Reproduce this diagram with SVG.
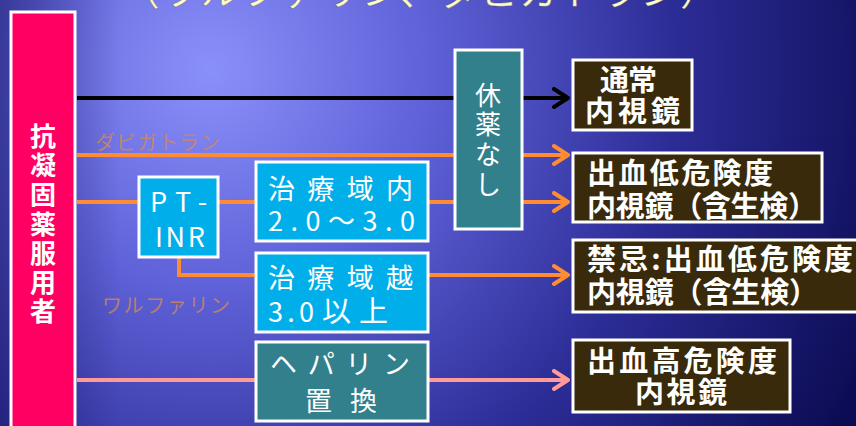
<svg xmlns="http://www.w3.org/2000/svg" width="856" height="426" viewBox="0 0 856 426">
<defs>
<radialGradient id="bg" cx="210" cy="70" r="720" gradientUnits="userSpaceOnUse">
<stop offset="0" stop-color="#8a90fa"/>
<stop offset="0.3" stop-color="#5f62d8"/>
<stop offset="0.65" stop-color="#2c2c96"/>
<stop offset="1" stop-color="#0c0c55"/>
</radialGradient>
<linearGradient id="fadeL" x1="0" y1="0" x2="1" y2="0">
<stop offset="0" stop-color="#10105a" stop-opacity="0.5"/>
<stop offset="1" stop-color="#10105a" stop-opacity="0"/>
</linearGradient>
<marker id="ah-black" viewBox="0 0 18 22" refX="16" refY="11" markerWidth="18" markerHeight="22" markerUnits="userSpaceOnUse" orient="auto">
<path d="M2,2 L16,11 L2,20" fill="none" stroke="#000" stroke-width="4" stroke-linecap="round" stroke-linejoin="round"/>
</marker>
<marker id="ah-orange" viewBox="0 0 18 22" refX="16" refY="11" markerWidth="18" markerHeight="22" markerUnits="userSpaceOnUse" orient="auto">
<path d="M2,2 L16,11 L2,20" fill="none" stroke="#ff8c32" stroke-width="4" stroke-linecap="round" stroke-linejoin="round"/>
</marker>
<marker id="ah-salmon" viewBox="0 0 18 22" refX="16" refY="11" markerWidth="18" markerHeight="22" markerUnits="userSpaceOnUse" orient="auto">
<path d="M2,2 L16,11 L2,20" fill="none" stroke="#ff9a96" stroke-width="4" stroke-linecap="round" stroke-linejoin="round"/>
</marker>
</defs>
<style>
text{font-family:"Noto Sans CJK JP","Noto Sans",sans-serif;fill:#fff}
.box{stroke:#fff;stroke-width:3}
.pink{fill:#ff0062}
.blue{fill:#00aeea}
.teal{fill:#31808c}
.brown{fill:#392a0c}
.t28{font-size:27px}
.t29{font-size:29px;font-weight:700}
.vt{font-size:26px}
.v{font-size:26px;font-weight:700}
.lbl{font-size:20px;fill:#d08858;fill-opacity:0.8}
.ln{fill:none;stroke-width:4}
.k{stroke:#000}
.o{stroke:#ff8c32}
.s{stroke:#ff9a96}
</style>
<rect width="856" height="426" fill="url(#bg)"/>
<rect width="120" height="426" fill="url(#fadeL)"/>
<text x="120" y="5" textLength="600" lengthAdjust="spacing" style="font-size:40px;fill:#fffcc8" stroke="#333" stroke-opacity="0.3" stroke-width="1">（ワルファリン、ダビガトラン）</text>

<g id="connectors">
<path class="ln k" d="M77,98 H568" marker-end="url(#ah-black)"/>
<path class="ln o" d="M77,155 H568" marker-end="url(#ah-orange)"/>
<path class="ln o" d="M77,202 H139"/>
<path class="ln o" d="M218,202 H256"/>
<path class="ln o" d="M428,202 H568" marker-end="url(#ah-orange)"/>
<path class="ln o" d="M179,257 V275 H256"/>
<path class="ln o" d="M428,275 H568" marker-end="url(#ah-orange)"/>
<path class="ln s" d="M77,380 H256"/>
<path class="ln s" d="M428,380 H568" marker-end="url(#ah-salmon)"/>
</g>

<g id="label-dabigatran"><text class="lbl" x="95" y="150" textLength="125" lengthAdjust="spacing">ダビガトラン</text></g>
<g id="label-warfarin"><text class="lbl" x="102" y="313" textLength="128" lengthAdjust="spacing">ワルファリン</text></g>

<g id="patient">
<rect class="box pink" x="11" y="12" width="64" height="420"/>
<text class="v" x="43" y="146" text-anchor="middle">抗</text>
<text class="v" x="43" y="175" text-anchor="middle">凝</text>
<text class="v" x="43" y="204" text-anchor="middle">固</text>
<text class="v" x="43" y="234" text-anchor="middle">薬</text>
<text class="v" x="43" y="263" text-anchor="middle">服</text>
<text class="v" x="43" y="292" text-anchor="middle">用</text>
<text class="v" x="43" y="321" text-anchor="middle">者</text>
</g>

<g id="ptinr">
<rect class="box blue" x="139" y="177" width="79" height="80"/>
<text x="150" y="212" textLength="57" lengthAdjust="spacing" style="font-size:27px">PT-</text>
<text x="155" y="247" textLength="50" lengthAdjust="spacing" style="font-size:27px">INR</text>
</g>

<g id="in-range">
<rect class="box blue" x="256" y="162" width="172" height="79"/>
<text class="t28" x="268" y="199" textLength="145" lengthAdjust="spacing">治療域内</text>
<text class="t28" x="268" y="231" textLength="147" lengthAdjust="spacing">2.0～3.0</text>
</g>

<g id="over-range">
<rect class="box blue" x="256" y="253" width="172" height="79"/>
<text class="t28" x="268" y="288" textLength="145" lengthAdjust="spacing">治療域越</text>
<text class="t28" x="268" y="322"><tspan textLength="46" lengthAdjust="spacing">3.0</tspan><tspan x="322" textLength="66" lengthAdjust="spacing" style="font-size:29px">以上</tspan></text>
</g>

<g id="heparin">
<rect class="box teal" x="256" y="342" width="172" height="79"/>
<text class="t28" x="270" y="374" textLength="140" lengthAdjust="spacing">ヘパリン</text>
<text class="t28" x="305" y="411" textLength="72" lengthAdjust="spacing">置換</text>
</g>

<g id="no-withdrawal">
<rect class="box teal" x="455" y="50" width="67" height="179"/>
<text class="vt" x="488" y="105" text-anchor="middle">休</text>
<text class="vt" x="488" y="134" text-anchor="middle">薬</text>
<text class="vt" x="488" y="164" text-anchor="middle">な</text>
<text class="vt" x="488" y="194" text-anchor="middle">し</text>
</g>

<g id="normal-endoscopy">
<rect class="box brown" x="573" y="60" width="119" height="70"/>
<text class="t29" x="600" y="91" textLength="57" lengthAdjust="spacing">通常</text>
<text class="t29" x="585" y="122" textLength="95" lengthAdjust="spacing">内視鏡</text>
</g>

<g id="low-risk">
<rect class="box brown" x="573" y="153" width="249" height="69"/>
<text class="t29" x="587" y="184" textLength="186" lengthAdjust="spacing">出血低危険度</text>
<text class="t29" x="587" y="217" textLength="230" lengthAdjust="spacing">内視鏡（含生検）</text>
</g>

<g id="contra-low-risk">
<rect class="box brown" x="573" y="240" width="290" height="72"/>
<text class="t29" x="587" y="270" textLength="266" lengthAdjust="spacing">禁忌:出血低危険度</text>
<text class="t29" x="587" y="303" textLength="231" lengthAdjust="spacing">内視鏡（含生検）</text>
</g>

<g id="high-risk">
<rect class="box brown" x="573" y="340" width="217" height="72"/>
<text class="t29" x="587" y="372" textLength="190" lengthAdjust="spacing">出血高危険度</text>
<text class="t29" x="635" y="403" textLength="92" lengthAdjust="spacing">内視鏡</text>
</g>
</svg>
